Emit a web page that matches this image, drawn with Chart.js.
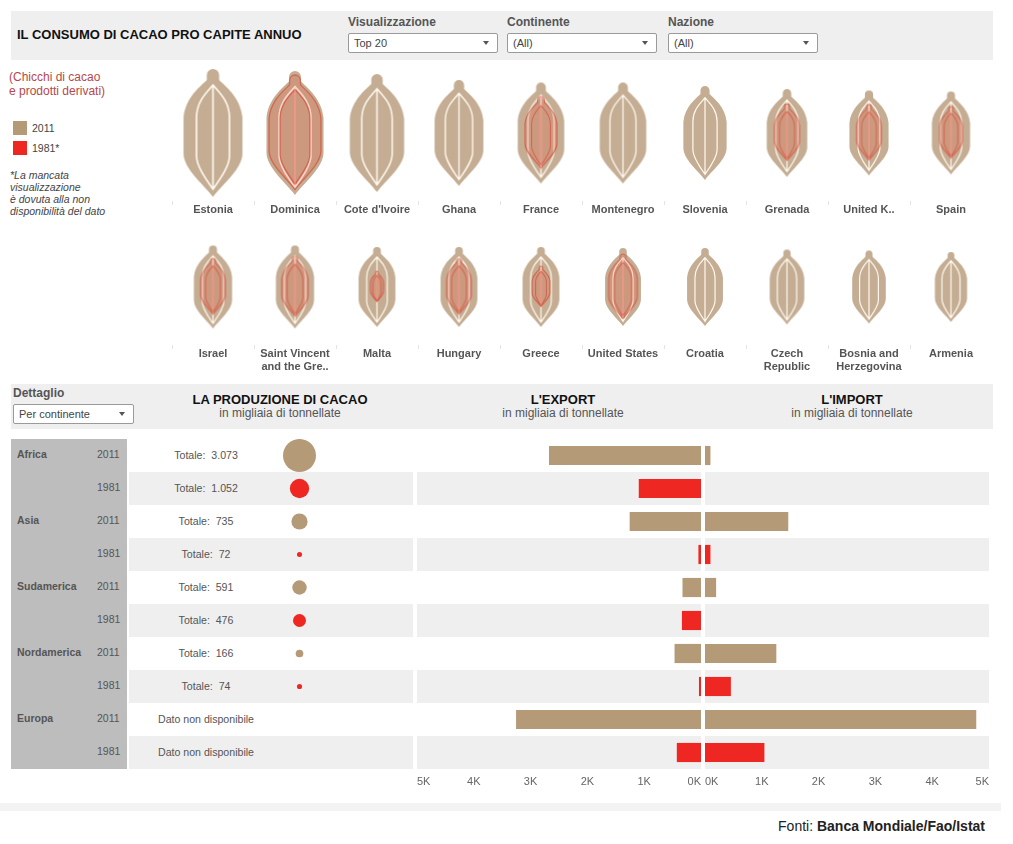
<!DOCTYPE html>
<html lang="it"><head><meta charset="utf-8"><title>Il consumo di cacao pro capite annuo</title>
<script src="https://cdn.jsdelivr.net/npm/chart.js@4/dist/chart.umd.min.js"></script>
<style>
html,body{margin:0;padding:0;background:#fff;width:1013px;height:844px;overflow:hidden;font-family:"Liberation Sans",Arial,sans-serif;color:#444}
.a{position:absolute;white-space:nowrap}
.panel{background:#efefef}
.lbl{font-size:12px;font-weight:bold;color:#555}
.sel{background:#fff;border:1px solid #9a9a9a;border-radius:2px;box-sizing:border-box;height:20px;font-size:11px;line-height:19px;padding-left:5px;color:#444}
.sel:after{content:"";position:absolute;right:8px;top:7px;border-left:3.5px solid transparent;border-right:3.5px solid transparent;border-top:4px solid #555}
.h{font-size:13px;font-weight:bold;color:#111;text-align:center;transform:translateX(-50%)}
.s{font-size:12px;color:#555;text-align:center;transform:translateX(-50%)}
canvas{display:block}
.cv{position:absolute}
</style></head><body>
<div class="a panel" style="left:11px;top:11px;width:982px;height:49px"></div>
<div class="a" style="left:17px;top:27px;font-size:13px;font-weight:bold;color:#111">IL CONSUMO DI CACAO PRO CAPITE ANNUO</div>
<div class="a lbl" style="left:348px;top:15px">Visualizzazione</div>
<div class="a sel" style="left:348px;top:33px;width:150px">Top 20</div>
<div class="a lbl" style="left:507px;top:15px">Continente</div>
<div class="a sel" style="left:507px;top:33px;width:150px">(All)</div>
<div class="a lbl" style="left:668px;top:15px">Nazione</div>
<div class="a sel" style="left:668px;top:33px;width:150px">(All)</div>

<div class="a" style="left:9px;top:70px;font-size:12px;line-height:14px;color:#b8474a">(Chicchi di cacao<br>e prodotti derivati)</div>
<div class="a" style="left:13px;top:121px;width:14px;height:14px;background:#b59a78"></div>
<div class="a" style="left:32px;top:122px;font-size:10.5px;color:#444">2011</div>
<div class="a" style="left:13px;top:141px;width:14px;height:14px;background:#ee2722"></div>
<div class="a" style="left:32px;top:142px;font-size:10.5px;color:#444">1981*</div>
<div class="a" style="left:10px;top:169px;font-size:10.5px;line-height:12px;font-style:italic;color:#444">*La mancata<br>visualizzazione<br>è dovuta alla non<br>disponibilità del dato</div>

<div class="cv" style="left:172px;top:65px;width:820px;height:170px"><canvas id="beansTop"></canvas></div>
<div class="cv" style="left:172px;top:229px;width:820px;height:150px"><canvas id="beansBottom"></canvas></div>

<div class="a panel" style="left:11px;top:384px;width:982px;height:45px"></div>
<div class="a lbl" style="left:13px;top:386px">Dettaglio</div>
<div class="a sel" style="left:13px;top:404px;width:121px">Per continente</div>
<div class="a h" style="left:280px;top:392px">LA PRODUZIONE DI CACAO</div>
<div class="a s" style="left:280px;top:406px">in migliaia di tonnellate</div>
<div class="a h" style="left:563px;top:392px">L'EXPORT</div>
<div class="a s" style="left:563px;top:406px">in migliaia di tonnellate</div>
<div class="a h" style="left:852px;top:392px">L'IMPORT</div>
<div class="a s" style="left:852px;top:406px">in migliaia di tonnellate</div>

<div id="rows"></div>
<div class="cv" style="left:185px;top:439px;width:229px;height:330px"><canvas id="production"></canvas></div>
<div class="cv" style="left:417px;top:439px;width:284px;height:352px"><canvas id="exportChart"></canvas></div>
<div class="cv" style="left:705px;top:439px;width:284px;height:352px"><canvas id="importChart"></canvas></div>

<div class="a" style="left:0;top:803px;width:1001px;height:8px;background:#f3f3f3"></div>
<div class="a" style="right:28px;top:818px;font-size:14px;color:#222;font-family:'Liberation Sans Narrow','Liberation Sans',sans-serif">Fonti: <b>Banca Mondiale/Fao/Istat</b></div>

<script>
// ---- Consumption per capita, kg (read from bean heights) ----
const countriesTop = ["Estonia","Dominica","Cote d'Ivoire","Ghana","France","Montenegro","Slovenia","Grenada","United K..","Spain"];
const consumption2011Top = [12.8,12.4,11.8,10.6,10.1,10.1,9.4,8.8,8.5,8.3];
const consumption1981Top = [null,11.6,null,null,7.3,null,null,5.8,5.7,5.3];
const countriesBottom = ["Israel",["Saint Vincent","and the Gre.."],"Malta","Hungary","Greece","United States","Croatia",["Czech","Republic"],["Bosnia and","Herzegovina"],"Armenia"];
const consumption2011Bottom = [8.3,8.3,8.0,8.0,8.0,7.8,7.8,7.5,7.3,7.0];
const consumption1981Bottom = [5.7,6.1,3.2,5.7,4.2,6.6,null,null,null,null];

// ---- Detail by continent, thousand tonnes ----
const continents = ["Africa","Asia","Sudamerica","Nordamerica","Europa"];
const years = ["2011","1981"];
const production2011 = [3073,735,591,166,null];
const production1981 = [1052,72,476,74,null];
const export2011 = [2.67,1.25,0.32,0.46,3.25];
const export1981 = [1.09,0.04,0.33,0.03,0.42];
const import2011 = [0.09,1.46,0.19,1.25,4.77];
const import1981 = [null,0.09,null,0.45,1.04];

const TAN='#b59a78', BEAN='#c4ad93', RED='#ee2722', GREY='#666';
const FONT='"Liberation Sans",Arial,sans-serif';
const PX_PER_KG=10, BUBBLE_K=0.298;

const rowLabels=[];
continents.forEach(c=>years.forEach(y=>rowLabels.push(c+' '+y)));
const interleave=(a,b)=>a.flatMap((v,i)=>[v,b[i]]);

// ---- Bean glyph: rendered as a Chart.js point style ----
function beanPath(g,w,h,cx){
  g.beginPath();
  const r=w*0.105;
  g.moveTo(cx-r,h*0.085);
  g.lineTo(cx-r,r);
  g.arc(cx,r,r,Math.PI,0);
  g.lineTo(cx+r,h*0.085);
  g.bezierCurveTo(cx+w*.2,h*.13,cx+w*.47,h*.22,cx+w*.5,h*.38);
  g.lineTo(cx+w*.5,h*.66);
  g.bezierCurveTo(cx+w*.5,h*.78,cx+w*.16,h*.9,cx,h);
  g.bezierCurveTo(cx-w*.16,h*.9,cx-w*.5,h*.78,cx-w*.5,h*.66);
  g.lineTo(cx-w*.5,h*.38);
  g.bezierCurveTo(cx-w*.47,h*.22,cx-w*.2,h*.13,cx-r,h*.085);
  g.closePath();
}
function seedPath(g,w,h,cx){
  g.beginPath();
  g.moveTo(cx,h*.125);
  g.bezierCurveTo(cx+w*.1,h*.18,cx+w*.28,h*.25,cx+w*.28,h*.38);
  g.lineTo(cx+w*.28,h*.68);
  g.bezierCurveTo(cx+w*.28,h*.76,cx+w*.12,h*.86,cx,h*.94);
  g.bezierCurveTo(cx-w*.12,h*.86,cx-w*.28,h*.76,cx-w*.28,h*.68);
  g.lineTo(cx-w*.28,h*.38);
  g.bezierCurveTo(cx-w*.28,h*.25,cx-w*.1,h*.18,cx,h*.125);
  g.closePath();
  g.moveTo(cx,h*.125);
  g.lineTo(cx,h*.94);
}
function beanStyle(size,year){
  const h=size, w=size*0.46;
  const c=document.createElement('canvas');
  c.width=Math.ceil(w)+4; c.height=Math.ceil(h)+4;
  const g=c.getContext('2d');
  g.translate(0,2);
  const cx=c.width/2;
  const lw=Math.max(1.2,h*0.013);
  if(year==='2011'){
    beanPath(g,w,h,cx); g.fillStyle=BEAN; g.fill();
    seedPath(g,w,h,cx); g.strokeStyle='#fff8ee'; g.lineWidth=lw; g.stroke();
  }else{
    beanPath(g,w,h,cx); g.fillStyle='rgba(238,70,44,.2)'; g.fill();
    beanPath(g,w-1.6,h-1.6,cx); g.strokeStyle='rgba(214,55,40,.52)'; g.lineWidth=lw*.85; g.stroke();
    seedPath(g,w,h,cx); g.strokeStyle='rgba(214,55,40,.52)'; g.lineWidth=lw*.85; g.stroke();
  }
  return c;
}
function beanChart(id,labels,v2011,v1981,labelPadding,areaBottomGap){
  // A missing year keeps its slot with no y, so the category index stays aligned
  const pts=a=>a.map((v,i)=>({x:i,y:v==null?null:.5,r:v==null?0:v*PX_PER_KG/2}));
  const ds=(a,year,order)=>({label:year,order,data:pts(a),clip:false,
    pointStyle:c=>c.raw&&c.raw.r>0?beanStyle(c.raw.r*2,year):'circle',
    backgroundColor:year==='2011'?BEAN:RED,borderWidth:0});
  return new Chart(document.getElementById(id),{type:'bubble',
    data:{labels,datasets:[ds(v2011,'2011',2),ds(v1981,'1981',1)]},
    options:{responsive:true,maintainAspectRatio:false,animation:false,events:[],
      layout:{padding:0,autoPadding:false},
      plugins:{legend:{display:false},tooltip:{enabled:false}},
      scales:{
        x:{type:'category',offset:true,border:{display:false},
          grid:{offset:true,drawOnChartArea:false,drawTicks:true,tickLength:4,color:'#e4e4e4'},
          ticks:{autoSkip:false,maxRotation:0,padding:labelPadding,color:'#555',font:{family:FONT,size:11,weight:'bold'}},
          afterFit(s){s.height=areaBottomGap;}},
        y:{display:false,min:0,max:1}
      }}});
}
beanChart('beansTop',countriesTop,consumption2011Top,consumption1981Top,-2,34);
beanChart('beansBottom',countriesBottom,consumption2011Bottom,consumption1981Bottom,-2,34);

// ---- Row furniture (text is real HTML text) ----
const rowsEl=document.getElementById('rows');
const fmt=v=>v==null?'Dato non disponibile':'Totale:\u00a0\u00a0'+String(v).replace(/\B(?=(\d{3})+$)/g,'.');
const prodAll=interleave(production2011,production1981);
const add=(css,txt)=>{const d=document.createElement('div');d.className='a';d.style.cssText=css;if(txt)d.textContent=txt;rowsEl.appendChild(d);};
const ROW_TOP=439,ROW_H=33;
add(`left:11px;top:${ROW_TOP}px;width:116px;height:${ROW_H*10}px;background:#bdbdbd`);
rowLabels.forEach((lab,i)=>{
  const top=ROW_TOP+i*ROW_H;
  if(i%2){add(`left:129px;top:${top}px;width:284px;height:${ROW_H}px;background:#efefef`);
          add(`left:417px;top:${top}px;width:284px;height:${ROW_H}px;background:#efefef`);
          add(`left:705px;top:${top}px;width:284px;height:${ROW_H}px;background:#efefef`);}
  if(i%2===0) add(`left:17px;top:${top+9}px;font-size:10.5px;font-weight:bold;color:#555`,continents[i/2]);
  add(`left:97px;top:${top+9}px;font-size:10.5px;color:#555`,years[i%2]);
  add(`left:206px;top:${top+10}px;font-size:10.6px;color:#555;transform:translateX(-50%)`,fmt(prodAll[i]));
});

// ---- Production bubbles ----
const rowColor=c=>c.dataIndex%2?RED:TAN;
new Chart(document.getElementById('production'),{type:'bubble',
  data:{labels:rowLabels,datasets:[{label:'Produzione',
    data:prodAll.map((v,i)=>v==null?null:{x:'p',y:rowLabels[i],r:Math.sqrt(v)*BUBBLE_K}).filter(Boolean),
    backgroundColor:c=>c.raw&&c.raw.y.endsWith('1981')?RED:TAN,borderWidth:0}]},
  options:{responsive:true,maintainAspectRatio:false,animation:false,events:[],layout:{padding:0,autoPadding:false},
    plugins:{legend:{display:false},tooltip:{enabled:false}},
    scales:{x:{type:'category',labels:['p'],offset:true,display:false},
            y:{type:'category',labels:rowLabels,offset:true,display:false}}}});

// ---- Export / import bars (export runs leftwards from zero, so it is negated for the axis) ----
function barChart(id,a2011,a1981,sign){
  const vals=interleave(a2011,a1981).map(v=>v==null?null:sign*v);
  return new Chart(document.getElementById(id),{type:'bar',
    data:{labels:rowLabels,datasets:[{label:'values',data:vals,backgroundColor:rowColor,barThickness:18.5,borderWidth:0}]},
    options:{indexAxis:'y',responsive:true,maintainAspectRatio:false,animation:false,events:[],layout:{padding:0,autoPadding:false},
      plugins:{legend:{display:false},tooltip:{enabled:false}},
      scales:{
        x:{type:'linear',min:sign<0?-5:0,max:sign<0?0:5,border:{display:false},
           grid:{display:false},
           ticks:{stepSize:1,align:'inner',padding:-2,color:GREY,font:{family:FONT,size:11},callback:v=>Math.abs(v)+'K'},
           afterFit(s){s.height=22;}},
        y:{display:false,offset:true}
      }}});
}
barChart('exportChart',export2011,export1981,-1);
barChart('importChart',import2011,import1981,1);
</script>
</body></html>
